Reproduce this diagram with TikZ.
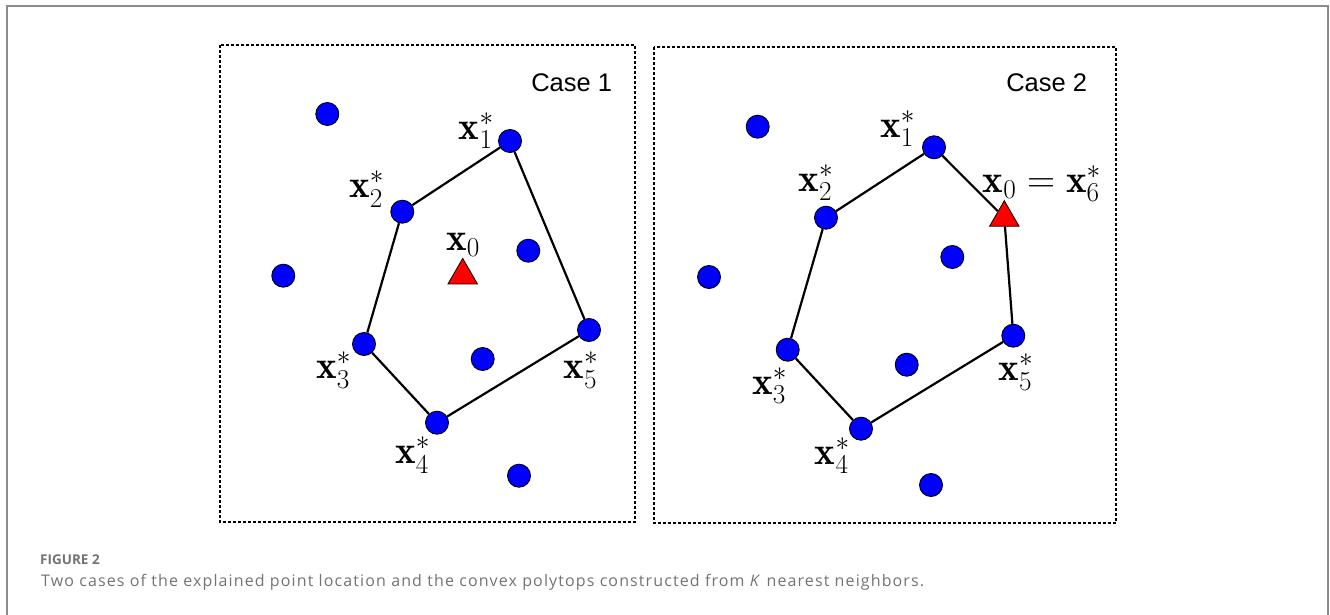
\RequirePackage{fix-cm}
\documentclass[tikz,border=0pt]{standalone}
\usepackage{fontspec}
\newfontfamily\casefont{Liberation Sans}
\newfontfamily\capfont[LetterSpace=7]{Open Sans}
\newfontfamily\figfont{Open Sans}
\usetikzlibrary{shapes.geometric}
\definecolor{framegray}{RGB}{140,140,140}
\definecolor{capgray}{RGB}{115,115,115}
\tikzset{
  pt/.style={circle, fill=blue, draw=black, line width=0.9pt, minimum size=23pt, inner sep=0pt},
  tri/.style={regular polygon, regular polygon sides=3, fill=red, draw=black, line width=0.8pt, minimum size=34pt, inner sep=0pt},
  edge/.style={line width=2.2pt, black},
  boxline/.style={dashed, dash pattern=on 3pt off 2pt, line width=1.1pt},
  lab/.style={inner sep=0pt, font=\fontsize{39}{44}\selectfont},
  casel/.style={inner sep=0pt, font=\casefont\fontsize{25.5}{30}\selectfont},
}
\begin{document}
\begin{tikzpicture}[x=1pt,y=-1pt]
\useasboundingbox (0,0) rectangle (1330,615);
% outer frame
\draw[framegray, line width=2pt] (6.7,615) -- (6.7,5.8) -- (1327.7,5.8) -- (1327.7,615);
% boxes
\draw[boxline] (220,45) rectangle (635,522);
\draw[boxline] (654,47) rectangle (1116,523);
\node[casel] (c1) at (571.7,82.7) {Case 1};
\node[casel] (c2) at (1046.7,82.7) {Case 2};
% ---- case 1 ----
\node[pt] (a1) at (510,141) {};
\node[pt] (a2) at (402.3,211.7) {};
\node[pt] (a3) at (364,344) {};
\node[pt] (a4) at (437,422.7) {};
\node[pt] (a5) at (589,330) {};
\node[pt] (ao1) at (327.3,114) {};
\node[pt] (ao2) at (283.3,275.7) {};
\node[pt] (ao3) at (528.3,250.7) {};
\node[pt] (ao4) at (482.7,359) {};
\node[pt] (ao5) at (519,475.7) {};
\node[tri] (at) at (462.7,275.4) {};
\draw[edge] (a1) -- (a2);
\draw[edge] (a2) -- (a3);
\draw[edge] (a3) -- (a4);
\draw[edge] (a4) -- (a5);
\draw[edge] (a5) -- (a1);
\node[lab] (la1) at (476.3,130.7) {$\mathbf{x}_1^*$};
\node[lab] (la2) at (366.7,189.3) {$\mathbf{x}_2^*$};
\node[lab] (la0) at (463,245) {$\mathbf{x}_0$};
\node[lab] (la3) at (333.7,370.3) {$\mathbf{x}_3^*$};
\node[lab] (la5) at (581,370.3) {$\mathbf{x}_5^*$};
\node[lab] (la4) at (412.7,455.3) {$\mathbf{x}_4^*$};
% ---- case 2 ----
\node[pt] (b1) at (934,147.3) {};
\node[pt] (b2) at (826,217.7) {};
\node[pt] (b3) at (787.7,349.7) {};
\node[pt] (b4) at (861,428.7) {};
\node[pt] (b5) at (1013.3,335.7) {};
\node[pt] (bo1) at (757.7,126.7) {};
\node[pt] (bo2) at (709,277) {};
\node[pt] (bo3) at (952.3,257) {};
\node[pt] (bo4) at (906.7,364.7) {};
\node[pt] (bo5) at (931,485) {};
\node[tri] (bt) at (1004.3,217.7) {};
\draw[edge] (b1) -- (b2);
\draw[edge] (b2) -- (b3);
\draw[edge] (b3) -- (b4);
\draw[edge] (b4) -- (b5);
\draw[edge] (b5) -- (bt);
\draw[edge] (bt) -- (b1);
\node[lab] (lb1) at (897.7,128.7) {$\mathbf{x}_1^*$};
\node[lab] (lb2) at (816,182.7) {$\mathbf{x}_2^*$};
\node[lab] (lb0) at (1041.7,183.7) {$\mathbf{x}_0 = \mathbf{x}_6^*$};
\node[lab] (lb3) at (769.7,385.7) {$\mathbf{x}_3^*$};
\node[lab] (lb5) at (1016,372.3) {$\mathbf{x}_5^*$};
\node[lab] (lb4) at (832.3,455.7) {$\mathbf{x}_4^*$};
% caption
\node[anchor=base west, inner sep=0pt, text=capgray, font=\figfont\bfseries\fontsize{13.5}{16}\selectfont] (fig) at (40,564) {FIGURE 2};
\node[anchor=base west, inner sep=0pt, text=capgray, font=\capfont\fontsize{16}{19}\selectfont] (cap) at (41,586.7) {Two cases of the explained point location and the convex polytops constructed from \textit{K} nearest neighbors.};
\end{tikzpicture}
\end{document}
